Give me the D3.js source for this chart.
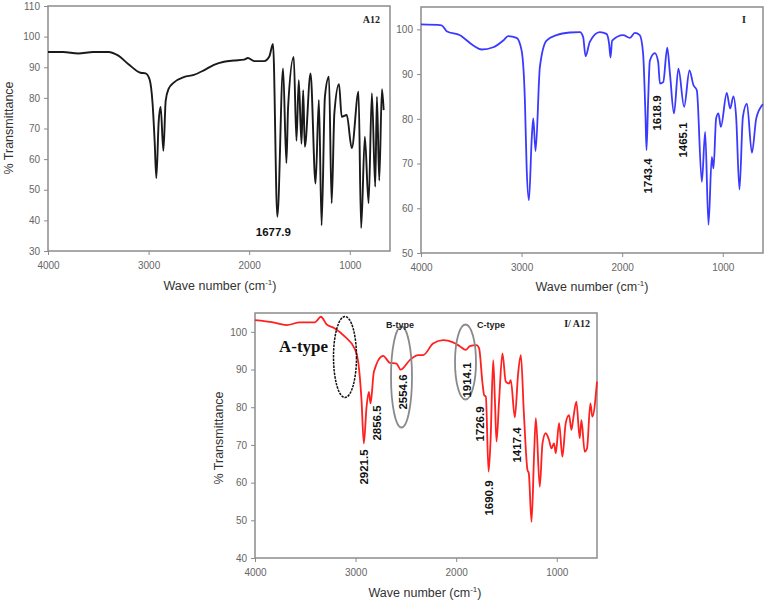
<!DOCTYPE html>
<html><head><meta charset="utf-8">
<script src="https://cdn.jsdelivr.net/npm/d3@7"></script>
<style>html,body{margin:0;padding:0;background:#fff;}svg{display:block;}</style>
</head><body>
<svg id="c" width="767" height="604"></svg>
<script>
// ---- Data (wavenumber cm-1, % transmittance) ----
const a12Wave = [4000,3850,3700,3550,3400,3300,3200,3080,3030,2990,2960,2940,2923,2900,2880,2853,2830,2800,2750,2650,2550,2450,2350,2250,2150,2050,2013,1950,1850,1800,1763,1720,1663,1630,1613,1557,1530,1507,1480,1463,1447,1390,1340,1307,1280,1247,1207,1180,1153,1107,1080,1030,980,913,887,850,813,780,747,730,707,680,663];
const a12T    = [95,95,94.5,95,95,93.8,91,88.2,88,86,78,66,53.8,72,77,62.7,79,83,85,86.8,87.5,89,90.8,91.8,92.2,92.5,93,92,92,93.5,97.6,41.2,89.6,58.7,77,93.4,66,85.8,65,82.5,64,88,52,79.3,38.4,80.4,86.9,45.6,75,84.5,73.8,74.4,63.6,82,37.5,67.3,45.6,81.5,51,80.4,53,82.8,76];

const iWave = [4000,3795,3745,3613,3480,3397,3282,3182,3133,3050,3000,2967,2950,2927,2900,2884,2861,2818,2752,2652,2520,2420,2388,2364,2322,2222,2156,2130,2116,2100,1990,1924,1874,1825,1792,1768,1758,1742,1725,1675,1642,1625,1592,1552,1525,1485,1441,1384,1331,1291,1258,1208,1175,1142,1109,1092,1066,1043,1019,960,927,894,867,834,800,760,710,667,600];
const iT    = [101.1,100.9,99.6,98.7,96.4,95.5,96,97.5,98.5,98.1,95.3,84,69.3,61.8,75.2,80.1,72.8,91.6,97.5,98.7,99.3,99.4,98.3,94,97.2,99.4,99,96.8,93.7,97.5,98.7,98.1,99.2,98.7,94.6,80.4,73,84,93,94.7,92.7,87.9,88.2,95.9,90.1,81.2,91.2,82.7,90.8,87.5,86.4,65.9,77.1,56.3,71.5,68.9,80.1,81.2,78.2,85.8,82.3,85,80.4,64.2,80.4,83.4,72.4,80.1,83.3];

const mixWave = [4000,3818,3686,3553,3404,3345,3288,3206,3106,3007,2974,2941,2918,2891,2868,2851,2818,2726,2659,2593,2553,2461,2378,2329,2230,2130,2031,1964,1905,1865,1798,1772,1738,1722,1705,1678,1658,1632,1615,1599,1573,1540,1507,1474,1457,1417,1384,1357,1327,1291,1278,1251,1225,1208,1169,1142,1110,1077,1053,1027,1010,977,944,911,878,854,838,805,772,755,722,699,666,646,600];
const mixT    = [103.1,102.5,101.8,102.5,102.5,104,102,100.9,98.7,95.4,92.1,81.9,70.4,80.1,84.1,81,89.4,93.6,91.8,91.6,90,92.5,93.8,93.8,96.9,97.8,97.2,96.2,95.2,96.2,96.5,95.6,86.3,83.2,82.8,62.9,71.3,92.5,81.9,70.9,81.9,94.3,86.8,86.3,87.2,77.3,89,93.8,78.4,63.3,62.5,49.6,67.8,77.1,58.9,70.4,73.1,71.3,69.1,70.4,67.8,75.8,66.9,75.8,77.9,74,76.6,81.5,71.8,76.6,68.2,69.1,81,77.5,86.8];

const xTicks = [4000,3000,2000,1000];
const yTicksA12 = [30,40,50,60,70,80,90,100,110];
const yTicksI   = [50,60,70,80,90,100];
const yTicksMix = [40,50,60,70,80,90,100];

const a12Labels = [{t:"1677.9", w:1720, v:41.2}];
const iLabels   = ["1743.4","1618.9","1465.1"];
const mixLabels = ["2921.5","2856.5","2554.6","1914.1","1726.9","1690.9","1417.4"];

const svg = d3.select("#c");

function panel(o){
  const x = d3.scaleLinear().domain([4000,600]).range([o.left,o.right]);
  const y = d3.scaleLinear().domain(o.yDom).range([o.bottom,o.top]);
  const g = svg.append("g");
  g.append("rect").attr("x",o.left).attr("y",o.top).attr("width",o.right-o.left).attr("height",o.bottom-o.top)
    .attr("fill","none").attr("stroke","#8c8c8c").attr("stroke-width",1.5);
  const ax = d3.axisBottom(x).tickValues(xTicks).tickSize(4).tickSizeOuter(0).tickFormat(d3.format("d"));
  const gx = g.append("g").attr("transform",`translate(0,${o.bottom})`).call(ax);
  const ay = d3.axisLeft(y).tickValues(o.yTicks).tickSize(4).tickSizeOuter(0);
  const gy = g.append("g").attr("transform",`translate(${o.left},0)`).call(ay);
  [gx,gy].forEach(a=>{
    a.select(".domain").remove();
    a.selectAll("line").attr("stroke","#8c8c8c");
    a.selectAll("text").attr("fill","#666").attr("font-family","Arial, 'Liberation Sans', sans-serif").attr("font-size",10);
  });
  gx.selectAll("text").attr("dy","1.05em");
  gy.selectAll("text").attr("dx","-0.1em");
  const line = d3.line().x((d,i)=>x(o.wave[i])).y((d,i)=>y(o.t[i])).curve(d3.curveMonotoneX);
  g.append("path").datum(o.t).attr("d",line).attr("fill","none").attr("stroke",o.color)
    .attr("stroke-width",o.sw).attr("stroke-linejoin","round");
  const xl = g.append("text").attr("x",o.xlx).attr("y",o.xly).attr("text-anchor","middle")
    .attr("font-family","Arial, 'Liberation Sans', sans-serif").attr("font-size",12.5).attr("fill","#333");
  xl.append("tspan").text("Wave number (cm");
  xl.append("tspan").attr("font-size",8).attr("dy",-5).text("-1");
  xl.append("tspan").attr("dy",5).text(")");
  if(o.ylx!==undefined){
    g.append("text").attr("transform",`translate(${o.ylx},${o.yly}) rotate(-90)`).attr("text-anchor","middle")
      .attr("font-family","Arial, 'Liberation Sans', sans-serif").attr("font-size",12.5).attr("fill","#333")
      .text("% Transmittance");
  }
  g.append("text").attr("x",o.tx).attr("y",o.ty).attr("text-anchor","end")
    .attr("font-family","'Liberation Serif','Times New Roman',serif").attr("font-weight","bold").attr("font-size",10).attr("fill","#222")
    .text(o.title);
  return {x,y,g};
}

function vlabel(g,cx,cy,t){
  g.append("text").attr("transform",`translate(${cx},${cy}) rotate(-90)`).attr("text-anchor","middle").attr("dy","0.35em")
    .attr("font-family","Arial, 'Liberation Sans', sans-serif").attr("font-weight","bold").attr("font-size",11.5).attr("fill","#111").text(t);
}

const p1 = panel({left:48,right:390,top:6,bottom:251,yDom:[30,110],yTicks:yTicksA12,wave:a12Wave,t:a12T,color:"#1a1a1a",sw:1.9,
  xlx:220,xly:290,ylx:13,yly:128,title:"A12",tx:380,ty:23});
a12Labels.forEach(l=>{
  p1.g.append("text").attr("x",p1.x(l.w)-4).attr("y",p1.y(l.v)+19).attr("text-anchor","middle")
    .attr("font-family","Arial, 'Liberation Sans', sans-serif").attr("font-weight","bold").attr("font-size",11.5).attr("fill","#111").text(l.t);
});

const p2 = panel({left:421,right:763,top:7,bottom:253,yDom:[50,105],yTicks:yTicksI,wave:iWave,t:iT,color:"#3a3aff",sw:1.8,
  xlx:592,xly:291,title:"I",tx:746,ty:23});
vlabel(p2.g,648,176,iLabels[0]);
vlabel(p2.g,657,113,iLabels[1]);
vlabel(p2.g,683,140,iLabels[2]);

const p3 = panel({left:255,right:597,top:313,bottom:558,yDom:[40,105],yTicks:yTicksMix,wave:mixWave,t:mixT,color:"#ff2020",sw:1.8,
  xlx:425,xly:597,ylx:223,yly:438,title:"I/ A12",tx:590,ty:327});
p3.g.append("ellipse").attr("cx",345).attr("cy",357).attr("rx",11.5).attr("ry",40.5)
  .attr("fill","none").attr("stroke","#111").attr("stroke-width",1.5).attr("stroke-dasharray","2.5,1");
p3.g.append("ellipse").attr("cx",401.5).attr("cy",377).attr("rx",10.5).attr("ry",50.5)
  .attr("fill","none").attr("stroke","#8a8a8a").attr("stroke-width",1.8);
p3.g.append("ellipse").attr("cx",465.5).attr("cy",362).attr("rx",10.5).attr("ry",37.5)
  .attr("fill","none").attr("stroke","#8a8a8a").attr("stroke-width",1.8);
p3.g.append("text").attr("x",279).attr("y",352).attr("font-family","'Liberation Serif','Times New Roman',serif")
  .attr("font-weight","bold").attr("font-size",17).attr("fill","#111").text("A-type");
p3.g.append("text").attr("x",400).attr("y",328).attr("text-anchor","middle").attr("font-family","Arial, 'Liberation Sans', sans-serif")
  .attr("font-weight","bold").attr("font-size",9).attr("fill","#222").text("B-type");
p3.g.append("text").attr("x",491).attr("y",328).attr("text-anchor","middle").attr("font-family","Arial, 'Liberation Sans', sans-serif")
  .attr("font-weight","bold").attr("font-size",9).attr("fill","#222").text("C-type");
const mixPos = [[364,467],[377,423],[403,392],[467,380],[480,424],[489,498],[517,445]];
mixLabels.forEach((t,i)=>vlabel(p3.g,mixPos[i][0],mixPos[i][1],t));
</script>
</body></html>
